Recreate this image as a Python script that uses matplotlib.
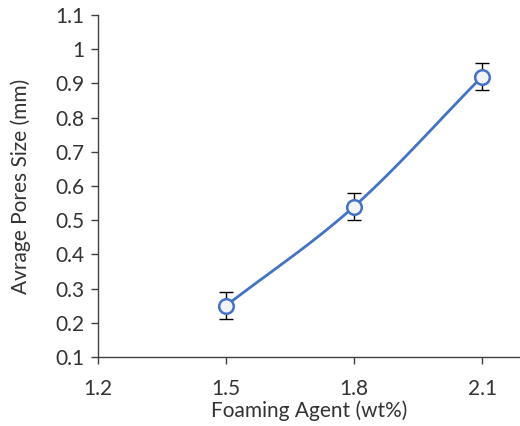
import numpy as np
import matplotlib
matplotlib.use("Agg")
import matplotlib.pyplot as plt

foaming_agent = [1.5, 1.8, 2.1]
pore_size = [0.25, 0.54, 0.92]
pore_err = [0.04, 0.04, 0.04]
x_ticks = [1.2, 1.5, 1.8, 2.1]
y_ticks = [0.1, 0.2, 0.3, 0.4, 0.5, 0.6, 0.7, 0.8, 0.9, 1.0, 1.1]
y_labels = ["0.1", "0.2", "0.3", "0.4", "0.5", "0.6", "0.7", "0.8", "0.9", "1", "1.1"]

plt.rcParams['font.family'] = ['Lato', 'DejaVu Sans']

def catmull_rom(xs, ys, n=50):
    P = np.column_stack([xs, ys]).astype(float)
    P = np.vstack([2 * P[0] - P[1], P, 2 * P[-1] - P[-2]])
    out = []
    for i in range(1, len(P) - 2):
        p0, p1, p2, p3 = P[i - 1], P[i], P[i + 1], P[i + 2]
        t = np.linspace(0, 1, n)[:, None]
        pts = 0.5 * ((2 * p1) + (-p0 + p2) * t + (2 * p0 - 5 * p1 + 4 * p2 - p3) * t ** 2
                     + (-p0 + 3 * p1 - 3 * p2 + p3) * t ** 3)
        out.append(pts)
    c = np.vstack(out)
    return c[:, 0], c[:, 1]

fig = plt.figure(figsize=(5.2, 4.26), dpi=100)
ax = fig.add_axes([98 / 520, (426 - 357) / 426, (1.0 - 98 / 520) + 0.001, (357 - 15) / 426])

sx, sy = catmull_rom(foaming_agent, pore_size)
ax.plot(sx, sy, color='#4472C4', lw=2, zorder=2)
ax.errorbar(foaming_agent, pore_size, yerr=pore_err, fmt='none', ecolor='black',
            elinewidth=1, capsize=5, capthick=1, zorder=3)
ax.plot(foaming_agent, pore_size, 'o', ms=10.5, mfc='#F2F4F8', mec='#4472C4', mew=1.8, zorder=4)

ax.set_xlim(1.2, 2.19)
ax.set_ylim(0.1, 1.1)
ax.set_xticks(x_ticks)
ax.set_xticklabels([str(v) for v in x_ticks])
ax.set_yticks(y_ticks)
ax.set_yticklabels(y_labels)
for s in ['top', 'right']:
    ax.spines[s].set_visible(False)
for s in ['left', 'bottom']:
    ax.spines[s].set_color('#404040')
    ax.spines[s].set_linewidth(1)
ax.tick_params(direction='out', length=5, width=1, color='#404040', labelsize=15,
               labelcolor='#333333')
ax.tick_params(axis='y', pad=5)
ax.tick_params(axis='x', pad=11)
ax.set_xlabel('Foaming Agent (wt%)', fontsize=15, color='#333333', labelpad=1)
ax.set_ylabel('Avrage Pores Size (mm)', fontsize=15, color='#333333', labelpad=17)

fig.savefig('out.png', dpi=100)
